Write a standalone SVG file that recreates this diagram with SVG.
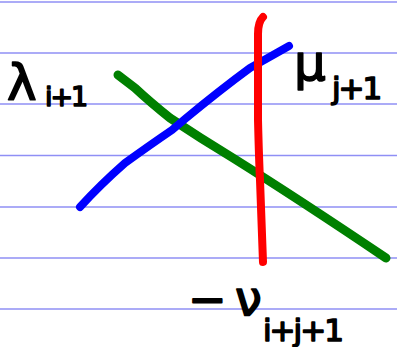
<svg xmlns="http://www.w3.org/2000/svg" width="397" height="347" viewBox="0 0 397 347">
<style>
.rule{stroke:#8f8ff5;stroke-width:1.6}
.pen{fill:none;stroke-linecap:round;stroke-linejoin:round}
.lbl{font-family:"DejaVu Sans",sans-serif;fill:#000;stroke:#000;stroke-width:1.6;stroke-linejoin:round}
.sub{letter-spacing:-2px}
</style>
<rect width="397" height="347" fill="#fff"/>
<g id="rules">
<line class="rule" x1="0" y1="2" x2="397" y2="2"/>
<line class="rule" x1="0" y1="53" x2="397" y2="53"/>
<line class="rule" x1="0" y1="104" x2="397" y2="104"/>
<line class="rule" x1="0" y1="155.5" x2="397" y2="155.5"/>
<line class="rule" x1="0" y1="207" x2="397" y2="207"/>
<line class="rule" x1="0" y1="258" x2="397" y2="258"/>
<line class="rule" x1="0" y1="309" x2="397" y2="309"/>
</g>
<g id="strokes">
<path class="pen" stroke="#008000" stroke-width="9" d="M118,75 L135,88 Q150,102 170,118 Q200,138 233,158 Q300,200 386,258"/>
<path class="pen" stroke="#0000ff" stroke-width="8" d="M80,207 Q100,185 125,163 Q150,145 172,130 L185,119 Q220,90 250,68 L289,46"/>
<path class="pen" stroke="#ff0000" stroke-width="8" d="M263,17 Q258,22 258,34 L258,120 Q259,160 260,180 L263,262"/>
</g>
<g id="labels">
<text class="lbl" x="7" y="100" font-size="50">λ</text>
<text class="lbl sub" x="45" y="106" font-size="27">i+1</text>
<text class="lbl" x="294" y="80" font-size="50">μ</text>
<text class="lbl sub" x="332" y="99" font-size="31">j+1</text>
<text class="lbl" x="188" y="315" font-size="46">−</text>
<text class="lbl" x="235" y="315" font-size="48">ν</text>
<text class="lbl sub" x="263" y="341" font-size="31">i+j+1</text>
</g>
</svg>
